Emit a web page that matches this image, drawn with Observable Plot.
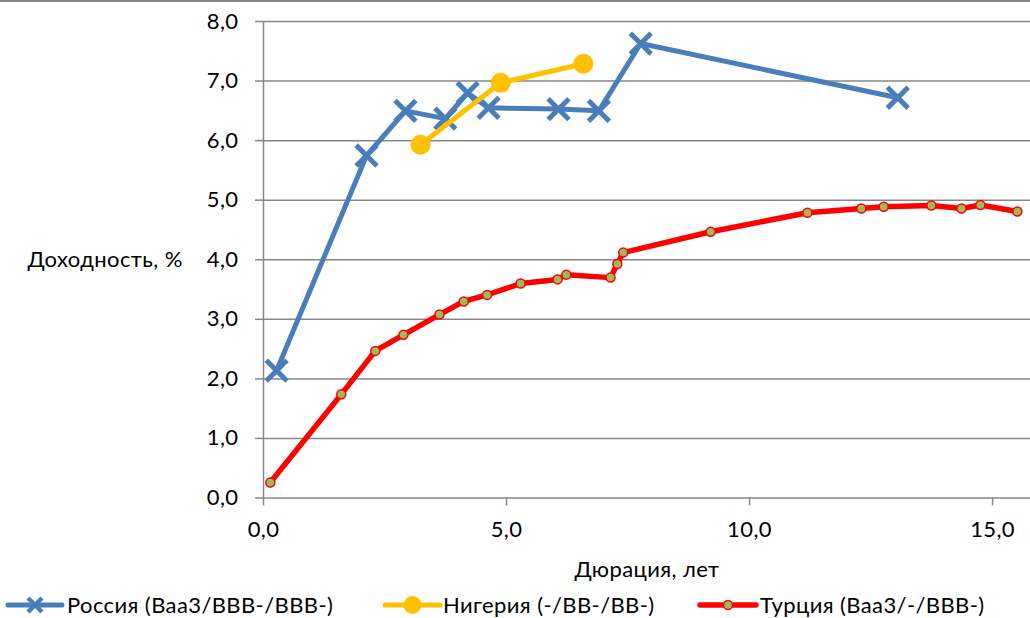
<!DOCTYPE html>
<html><head><meta charset="utf-8">
<script src="https://cdn.jsdelivr.net/npm/d3@7"></script>
<script src="https://cdn.jsdelivr.net/npm/@observablehq/plot@0.6"></script>
<style>
body{margin:0;background:#fff;}
#wrap{position:relative;width:1030px;height:618px;overflow:hidden;font-family:Lato,"Open Sans",sans-serif;}
#border{position:absolute;left:0;top:0;width:1030px;height:2px;background:#878787;}
#chart{position:absolute;left:0;top:0;}
#legend{position:absolute;left:0;top:590px;}
svg text{letter-spacing:0.4px;}
</style>
</head><body>
<div id="wrap"><div id="chart"></div><div id="border"></div><div id="legend"></div></div>
<script>
// Data
const russiaX = [0.27, 2.12, 2.92, 3.74, 4.20, 4.63, 6.07, 6.90, 7.76, 13.05];
const russiaY = [2.14, 5.75, 6.50, 6.37, 6.80, 6.55, 6.53, 6.50, 7.63, 6.72];
const nigeriaX = [3.23, 4.88, 6.58];
const nigeriaY = [5.93, 6.97, 7.29];
const turkeyX = [0.14, 1.60, 2.30, 2.88, 3.62, 4.12, 4.60, 5.29, 6.05, 6.23, 7.14, 7.28, 7.40, 9.20, 11.19, 12.30, 12.76, 13.74, 14.36, 14.75, 15.51];
const turkeyY = [0.26, 1.74, 2.47, 2.74, 3.08, 3.30, 3.41, 3.60, 3.67, 3.75, 3.70, 3.93, 4.12, 4.47, 4.79, 4.86, 4.89, 4.91, 4.86, 4.92, 4.81];
const xTicks = [0, 5, 10, 15];
const yTicks = [0, 1, 2, 3, 4, 5, 6, 7, 8];
const seriesNames = ["Россия (Baa3/BBB-/BBB-)", "Нигерия (-/BB-/BB-)", "Турция (Baa3/-/BBB-)"];
const xTitle = "Дюрация, лет";
const yTitle = "Доходность, %";

const toRows = (xs, ys) => xs.map((x, i) => ({x, y: ys[i]}));
const russia = toRows(russiaX, russiaY);
const nigeria = toRows(nigeriaX, nigeriaY);
const turkey = toRows(turkeyX, turkeyY);

const fmt = d => d.toFixed(1).replace(".", ",");
const grid = "#878787";
const font = "Lato, 'Open Sans', sans-serif";
const fs = 22;

const plot = Plot.plot({
  width: 1030, height: 590,
  marginLeft: 263, marginRight: 0, marginTop: 21, marginBottom: 92.5,
  style: {fontFamily: font, fontSize: fs + "px", color: "#000", background: "transparent", overflow: "visible"},
  x: {domain: [0, 15.78], label: null},
  y: {domain: [0, 8], label: null},
  marks: [
    Plot.gridY(yTicks, {stroke: grid, strokeOpacity: 1, strokeWidth: 1.5}),
    Plot.ruleX([0], {stroke: grid, strokeWidth: 1.5}),
    Plot.axisY(yTicks, {tickFormat: fmt, tickSize: 8, tickPadding: 17, stroke: grid, strokeWidth: 1.5, fill: "#000", fontSize: fs, label: null}),
    Plot.axisX(xTicks, {tickFormat: fmt, tickSize: 8, tickPadding: 15, stroke: grid, strokeWidth: 1.5, fill: "#000", fontSize: fs, label: null}),
    Plot.text([yTitle], {frameAnchor: "left", dx: -236, textAnchor: "start", fontSize: fs, fill: "#000"}),
    Plot.text([xTitle], {frameAnchor: "bottom", dy: 79, fontSize: fs, fill: "#000"}),
    Plot.line(turkey, {x: "x", y: "y", stroke: "#FF0000", strokeWidth: 5.5}),
    Plot.dot(turkey, {x: "x", y: "y", r: 4.5, fill: "#9BBB59", stroke: "#FF0000", strokeWidth: 1.5}),
    Plot.line(russia, {x: "x", y: "y", stroke: "#4A7EBB", strokeWidth: 5}),
    Plot.dot(russia, {x: "x", y: "y", symbol: "times", r: 9.5, stroke: "#4A7EBB", strokeWidth: 5}),
    Plot.line(nigeria, {x: "x", y: "y", stroke: "#FFC000", strokeWidth: 5}),
    Plot.dot(nigeria, {x: "x", y: "y", r: 10, fill: "#FFC000", stroke: "#FFC000", strokeWidth: 0})
  ]
});
document.getElementById("chart").appendChild(plot);

// Legend
const lg = d3.select("#legend").append("svg").attr("width", 1030).attr("height", 28)
  .style("font-family", font).style("font-size", fs + "px");
const items = [
  {name: seriesNames[0], x0: 8, x1: 62, color: "#4A7EBB", kind: "times", tx: 67},
  {name: seriesNames[1], x0: 385, x1: 440, color: "#FFC000", kind: "circle", tx: 443},
  {name: seriesNames[2], x0: 700, x1: 756, color: "#FF0000", kind: "small", tx: 760}
];
const cy = 15;
items.forEach(it => {
  lg.append("line").attr("x1", it.x0).attr("x2", it.x1).attr("y1", cy).attr("y2", cy)
    .attr("stroke", it.color).attr("stroke-width", it.kind === "small" ? 5.5 : 5).attr("stroke-linecap", "round");
  const mx = (it.x0 + it.x1) / 2;
  if (it.kind === "times") {
    const s = 7;
    lg.append("path").attr("d", `M${mx - s},${cy - s}L${mx + s},${cy + s}M${mx - s},${cy + s}L${mx + s},${cy - s}`)
      .attr("stroke", it.color).attr("stroke-width", 4.5);
  } else if (it.kind === "circle") {
    lg.append("circle").attr("cx", mx).attr("cy", cy).attr("r", 9).attr("fill", it.color);
  } else {
    lg.append("circle").attr("cx", mx).attr("cy", cy).attr("r", 4.5).attr("fill", "#9BBB59").attr("stroke", it.color).attr("stroke-width", 1.5);
  }
  lg.append("text").attr("x", it.tx).attr("y", cy).attr("dy", "0.35em").attr("fill", "#000").text(it.name);
});
</script>
</body></html>
